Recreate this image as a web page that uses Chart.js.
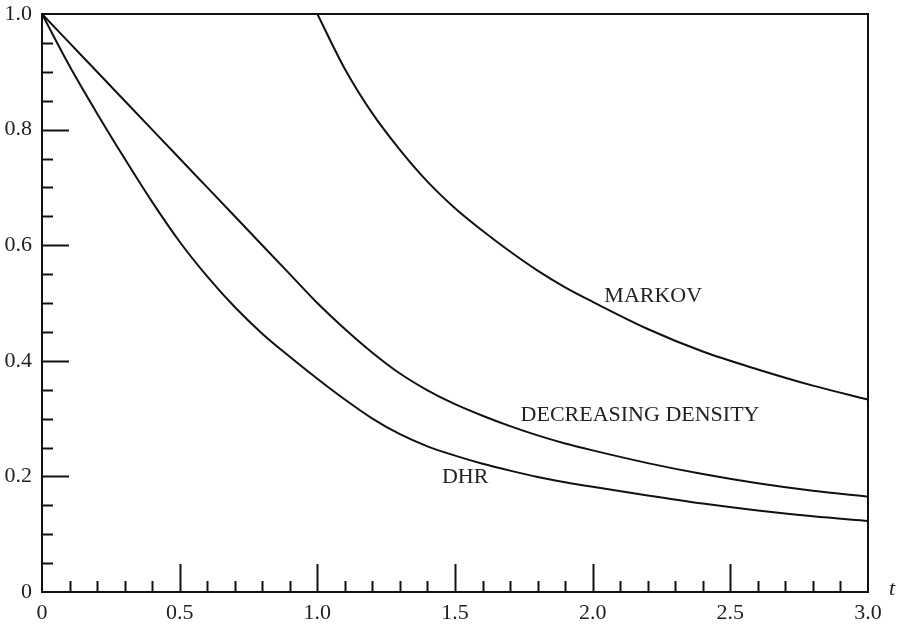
<!DOCTYPE html>
<html lang="en">
<head>
<meta charset="UTF-8">
<title>Survival curves: Markov, decreasing density, DHR</title>
<script src="https://cdn.jsdelivr.net/npm/chart.js"></script>
<style>
    body {
        margin: 0;
        background: #ffffff;
    }
    canvas {
        display: block;
    }
</style>
</head>
<body>
<canvas id="chart" width="902" height="624"></canvas>
<script>
// values
const tValues = [0, 0.1, 0.2, 0.3, 0.4, 0.5, 0.6, 0.7, 0.8, 0.9, 1.0,
                 1.1, 1.2, 1.3, 1.4, 1.5, 1.6, 1.7, 1.8, 1.9, 2.0,
                 2.2, 2.4, 2.6, 2.8, 3.0];
const markovValues = [1, 1, 1, 1, 1, 1, 1, 1, 1, 1, 1,
                      0.905, 0.828, 0.765, 0.71, 0.664, 0.625, 0.589, 0.556, 0.527, 0.502,
                      0.455, 0.416, 0.385, 0.357, 0.333];
const densityValues = [1.0, 0.95, 0.90, 0.85, 0.80, 0.75, 0.70, 0.65, 0.60, 0.55, 0.50,
                       0.455, 0.414, 0.378, 0.349, 0.325, 0.305, 0.287, 0.271, 0.257, 0.245,
                       0.223, 0.204, 0.188, 0.175, 0.165];
const dhrValues = [1.0, 0.91, 0.828, 0.75, 0.675, 0.606, 0.546, 0.493, 0.447, 0.407, 0.369,
                   0.333, 0.300, 0.273, 0.252, 0.236, 0.222, 0.210, 0.199, 0.190, 0.182,
                   0.167, 0.153, 0.141, 0.131, 0.123];
const xTickLabels = ['0', '0.5', '1.0', '1.5', '2.0', '2.5', '3.0'];
const yTickLabels = ['0', '0.2', '0.4', '0.6', '0.8', '1.0'];

// curve names, placed in data units (centre, baseline)
const curveNames = [
    { text: 'MARKOV', t: 2.22, v: 0.502 },
    { text: 'DECREASING DENSITY', t: 2.172, v: 0.295 },
    { text: 'DHR', t: 1.537, v: 0.189 }
];

const FONT = 'Liberation Serif, Times New Roman, serif';
const INK = '#111';

function points(values, from, to) {
    return tValues
        .map((t, i) => ({ x: t, y: values[i] }))
        .filter(p => p.x >= from && p.x <= to);
}

function curve(label, data) {
    return {
        label: label,
        data: data,
        borderColor: INK,
        borderWidth: 2,
        pointRadius: 0,
        fill: false,
        cubicInterpolationMode: 'monotone',
        clip: false
    };
}

// frame, inward tick marks and text labels
const decorations = {
    id: 'decorations',
    afterDatasetsDraw(chart) {
        const { ctx, chartArea: a, scales: { x, y } } = chart;
        ctx.save();
        ctx.strokeStyle = INK;
        ctx.lineWidth = 2;
        ctx.lineCap = 'square';

        ctx.beginPath();
        ctx.moveTo(a.left, a.top);
        ctx.lineTo(a.right, a.top);
        ctx.lineTo(a.right, a.bottom);
        ctx.stroke();

        ctx.lineCap = 'butt';
        for (let i = 1; i < 30; i++) {
            const px = Math.round(x.getPixelForValue(i / 10)) + 0.5;
            const len = i % 5 === 0 ? 28 : 11;
            ctx.beginPath();
            ctx.moveTo(px, a.bottom);
            ctx.lineTo(px, a.bottom - len);
            ctx.stroke();
        }
        for (let i = 1; i < 20; i++) {
            const py = Math.round(y.getPixelForValue(i / 20)) + 0.5;
            const len = i % 4 === 0 ? 27 : 11;
            ctx.beginPath();
            ctx.moveTo(a.left, py);
            ctx.lineTo(a.left + len, py);
            ctx.stroke();
        }

        ctx.fillStyle = '#222';
        ctx.font = '22px ' + FONT;
        ctx.textAlign = 'center';
        ctx.textBaseline = 'alphabetic';
        curveNames.forEach(n => {
            ctx.fillText(n.text, x.getPixelForValue(n.t), y.getPixelForValue(n.v));
        });

        ctx.font = 'italic 22px ' + FONT;
        ctx.fillText('t', a.right + 24, y.getPixelForValue(0) + 3);
        ctx.restore();
    }
};

new Chart(document.getElementById('chart').getContext('2d'), {
    type: 'line',
    data: {
        datasets: [
            curve('MARKOV', points(markovValues, 0, 1)),
            curve('MARKOV', points(markovValues, 1, 3)),
            curve('DECREASING DENSITY', points(densityValues, 0, 3)),
            curve('DHR', points(dhrValues, 0, 3))
        ]
    },
    options: {
        responsive: false,
        animation: false,
        layout: {
            padding: { left: 0, top: 14, right: 34, bottom: 0 }
        },
        plugins: {
            legend: { display: false },
            tooltip: { enabled: false }
        },
        scales: {
            x: {
                type: 'linear',
                min: 0,
                max: 3,
                afterFit: s => {
                    s.height = 32;
                    s.paddingLeft = 0;
                    s.paddingRight = 0;
                },
                grid: { display: false, drawTicks: false },
                border: { display: true, color: INK, width: 2 },
                ticks: {
                    stepSize: 0.5,
                    autoSkip: false,
                    maxRotation: 0,
                    padding: 8,
                    color: '#222',
                    font: { family: FONT, size: 22 },
                    callback: (value, index) => xTickLabels[index]
                }
            },
            y: {
                type: 'linear',
                min: 0,
                max: 1,
                afterFit: s => {
                    s.width = 42;
                    s.paddingTop = 0;
                    s.paddingBottom = 0;
                },
                grid: { display: false, drawTicks: false },
                border: { display: true, color: INK, width: 2 },
                ticks: {
                    stepSize: 0.2,
                    autoSkip: false,
                    padding: 10,
                    color: '#222',
                    font: { family: FONT, size: 22 },
                    callback: (value, index) => yTickLabels[index]
                }
            }
        }
    },
    plugins: [decorations]
});
</script>
</body>
</html>
